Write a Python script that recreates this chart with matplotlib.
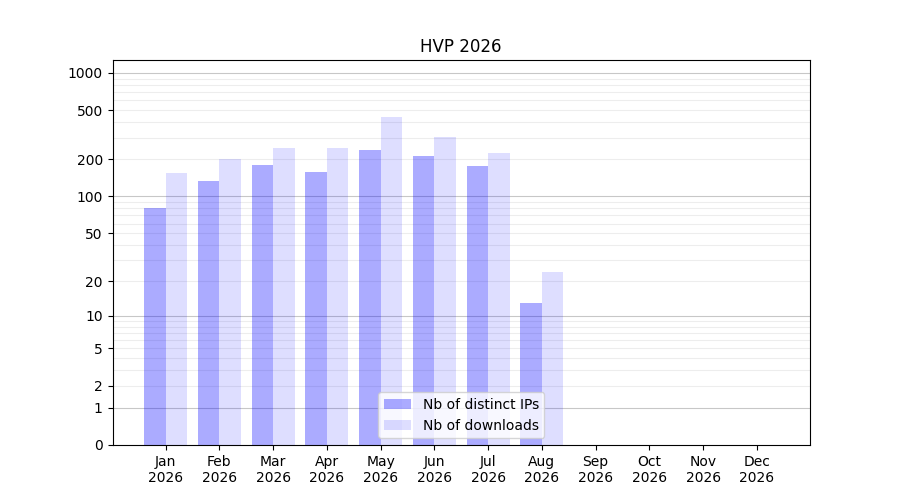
import numpy as np
import matplotlib
matplotlib.use("Agg")
import matplotlib.pyplot as plt

months = ["Jan", "Feb", "Mar", "Apr", "May", "Jun", "Jul", "Aug", "Sep", "Oct", "Nov", "Dec"]
year = "2026"
distinct_ips = [80, 134, 180, 158, 238, 213, 177, 13, 0, 0, 0, 0]
downloads = [155, 200, 247, 247, 441, 304, 225, 24, 0, 0, 0, 0]
ytick_values = [0, 1, 2, 5, 10, 20, 50, 100, 200, 500, 1000]
decades = [1, 10, 100, 1000]

fig, ax = plt.subplots(figsize=(9, 5), dpi=100)
ax.set_yscale('function', functions=(lambda v: np.log10(1 + np.clip(v, 0, None)),
                                     lambda v: 10 ** v - 1))

x = np.arange(len(months))
ax.bar(x - 0.2, distinct_ips, 0.4, color='blue', alpha=0.33, label="Nb of distinct IPs")
ax.bar(x + 0.2, downloads, 0.4, color='blue', alpha=0.13, label="Nb of downloads")

# grid lines: darker on decades, light on every other integer multiple
for d in decades:
    ax.axhline(d, color='black', alpha=0.22, lw=0.8, zorder=0)
    for m in range(2, 10):
        ax.axhline(d * m, color='black', alpha=0.07, lw=0.8, zorder=0)

ax.set_ylim(0, 1270)
ax.set_yticks(ytick_values)
ax.set_yticklabels([str(v) for v in ytick_values])
ax.minorticks_off()
ax.set_xticks(x)
ax.set_xticklabels(["{}\n{}".format(m, year) for m in months])
ax.set_title("HVP 2026")
ax.legend(loc='lower center')

plt.savefig("out.png")
